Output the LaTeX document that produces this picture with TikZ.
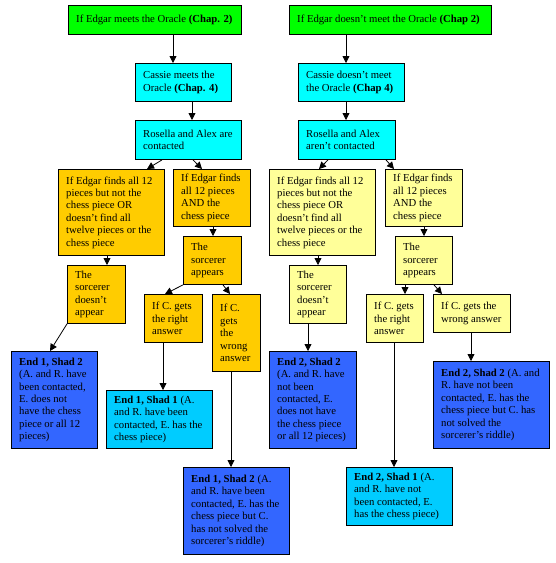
\documentclass[tikz,border=0pt]{standalone}
\usepackage{fontspec}
\setmainfont{Liberation Serif}
\usetikzlibrary{arrows.meta}
\definecolor{cgreen}{HTML}{00FF00}
\definecolor{ccyan}{HTML}{00FFFF}
\definecolor{corange}{HTML}{FFCC00}
\definecolor{cyellow}{HTML}{FFFF99}
\definecolor{cblue}{HTML}{3366FF}
\definecolor{clblue}{HTML}{00CCFF}
% box: name, x, y, width, height, colour, text
\newcommand{\bx}[7]{%
  \node[box,fill=#6,minimum width=#4pt,minimum height=#5pt] (#1) at (#2,#3) {};
  \node[txt] (#1t) at ([xshift=8pt]#1.west) {#7};}
\begin{document}
\begin{tikzpicture}[x=1pt,y=-1pt,
  box/.style={draw=black, line width=0.9pt, anchor=north west, inner sep=0pt},
  txt/.style={anchor=west, align=left, inner sep=0pt, font=\fontsize{10.7pt}{12.4pt}\selectfont},
  arr/.style={-{Triangle[width=7pt,length=7pt]}, line width=0.8pt}]
\useasboundingbox (0,0) rectangle (556,563);
% left branch
\bx{g1}{68}{5}{173}{29}{cgreen}{If Edgar meets the Oracle \textbf{(Chap. 2)}}
\bx{c1}{135}{63}{96}{38}{ccyan}{Cassie meets the\\Oracle \textbf{(Chap. 4)}}
\bx{r1}{135}{120}{106}{39}{ccyan}{Rosella and Alex are\\contacted}
\bx{oA}{58}{169}{106}{86}{corange}{If Edgar finds all 12\\pieces but not the\\chess piece OR\\doesn't find all\\twelve pieces or the\\chess piece}
\bx{oB}{173}{169}{77}{57}{corange}{If Edgar finds\\all 12 pieces\\AND the\\chess piece}
\bx{oSn}{67}{265}{58}{58}{corange}{The\\sorcerer\\doesn't\\appear}
\bx{oSa}{183}{236}{58}{48}{corange}{The\\sorcerer\\appears}
\bx{oCr}{144}{294}{58}{48}{corange}{If C. gets\\the right\\answer}
\bx{oCw}{212}{294}{48}{77}{corange}{If C.\\gets\\the\\wrong\\answer}
\bx{e1a}{11}{351}{86}{97}{cblue}{\textbf{End 1, Shad 2}\\(A. and R. have\\been contacted,\\E. does not\\have the chess\\piece or all 12\\pieces)}
\bx{e1b}{106}{390}{106}{58}{clblue}{\textbf{End 1, Shad 1} (A.\\and R. have been\\contacted, E. has the\\chess piece)}
\bx{e1c}{183}{467}{106}{87}{cblue}{\textbf{End 1, Shad 2} (A.\\and R. have been\\contacted, E. has the\\chess piece but C.\\has not solved the\\sorcerer's riddle)}
% right branch
\bx{g2}{289}{5}{202}{29}{cgreen}{If Edgar doesn't meet the Oracle \textbf{(Chap 2)}}
\bx{c2}{298}{63}{106}{38}{ccyan}{Cassie doesn't meet\\the Oracle \textbf{(Chap 4)}}
\bx{r2}{298}{120}{97}{39}{ccyan}{Rosella and Alex\\aren't contacted}
\bx{yA}{269}{169}{106}{86}{cyellow}{If Edgar finds all 12\\pieces but not the\\chess piece OR\\doesn't find all\\twelve pieces or the\\chess piece}
\bx{yB}{385}{169}{77}{57}{cyellow}{If Edgar finds\\all 12 pieces\\AND the\\chess piece}
\bx{ySn}{289}{265}{57}{58}{cyellow}{The\\sorcerer\\doesn't\\appear}
\bx{ySa}{395}{236}{57}{48}{cyellow}{The\\sorcerer\\appears}
\bx{yCr}{366}{294}{57}{48}{cyellow}{If C. gets\\the right\\answer}
\bx{yCw}{433}{294}{77}{38}{cyellow}{If C. gets the\\wrong answer}
\bx{e2a}{269}{351}{87}{97}{cblue}{\textbf{End 2, Shad 2}\\(A. and R. have\\not been\\contacted, E.\\does not have\\the chess piece\\or all 12 pieces)}
\bx{e2b}{346}{467}{106}{58}{clblue}{\textbf{End 2, Shad 1} (A.\\and R. have not\\been contacted, E.\\has the chess piece)}
\bx{e2c}{433}{361}{116}{87}{cblue}{\textbf{End 2, Shad 2} (A. and\\R. have not been\\contacted, E. has the\\chess piece but C. has\\not solved the\\sorcerer's riddle)}
% connectors left
\draw[arr] ([xshift=105pt]g1.south west) -- ([xshift=38pt]c1.north west);
\draw[arr] ([xshift=57pt]c1.south west) -- ([xshift=57pt]r1.north west);
\draw[arr] ([xshift=27pt]r1.south west) -- ([xshift=89pt]oA.north west);
\draw[arr] ([xshift=58pt]r1.south west) -- ([xshift=29pt]oB.north west);
\draw[arr] ([xshift=49pt]oA.south west) -- ([xshift=40pt]oSn.north west);
\draw[arr] ([xshift=40pt]oB.south west) -- ([xshift=30pt]oSa.north west);
\draw[arr] (oSa.south west) -- ([xshift=21pt]oCr.north west);
\draw[arr] ([xshift=40pt]oSa.south west) -- ([xshift=18pt]oCw.north west);
\draw[arr] (oSn.south west) -- ([xshift=39pt]e1a.north west);
\draw[arr] ([xshift=19pt]oCr.south west) -- ([xshift=57pt]e1b.north west);
\draw[arr] ([xshift=19pt]oCw.south west) -- ([xshift=48pt]e1c.north west);
% connectors right
\draw[arr] ([xshift=57pt]g2.south west) -- ([xshift=48pt]c2.north west);
\draw[arr] ([xshift=48pt]c2.south west) -- ([xshift=48pt]r2.north west);
\draw[arr] ([xshift=30pt]r2.south west) -- ([xshift=50pt]yA.north west);
\draw[arr] ([xshift=88pt]r2.south west) -- ([xshift=9pt]yB.north west);
\draw[arr] ([xshift=49pt]yA.south west) -- ([xshift=29pt]ySn.north west);
\draw[arr] ([xshift=39pt]yB.south west) -- ([xshift=29pt]ySa.north west);
\draw[arr] ([xshift=10pt]ySa.south west) -- ([xshift=39pt]yCr.north west);
\draw[arr] ([xshift=39pt]ySa.south west) -- ([xshift=9pt]yCw.north west);
\draw[arr] ([xshift=19pt]ySn.south west) -- ([xshift=39pt]e2a.north west);
\draw[arr] ([xshift=28pt]yCr.south west) -- ([xshift=48pt]e2b.north west);
\draw[arr] ([xshift=38pt]yCw.south west) -- ([xshift=38pt]e2c.north west);
\end{tikzpicture}
\end{document}
